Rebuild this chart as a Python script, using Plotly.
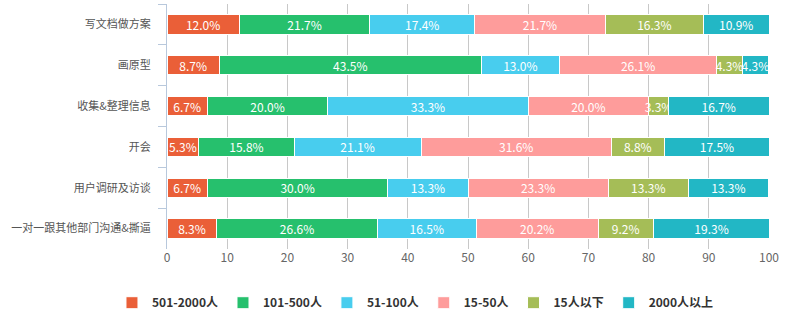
import plotly.graph_objects as go

categories = ["写文档做方案", "画原型", "收集&整理信息", "开会", "用户调研及访谈", "一对一跟其他部门沟通&撕逼"]
series_names = ["501-2000人", "101-500人", "51-100人", "15-50人", "15人以下", "2000人以上"]
s_501_2000 = [12.0, 8.7, 6.7, 5.3, 6.7, 8.3]
s_101_500 = [21.7, 43.5, 20.0, 15.8, 30.0, 26.6]
s_51_100 = [17.4, 13.0, 33.3, 21.1, 13.3, 16.5]
s_15_50 = [21.7, 26.1, 20.0, 31.6, 23.3, 20.2]
s_under15 = [16.3, 4.3, 3.3, 8.8, 13.3, 9.2]
s_over2000 = [10.9, 4.3, 16.7, 17.5, 13.3, 19.3]
x_ticks = [0, 10, 20, 30, 40, 50, 60, 70, 80, 90, 100]

colors = ["#EA5F38", "#26C06D", "#48CDEE", "#FE9C9B", "#A5BD57", "#22B7C5"]
all_series = [s_501_2000, s_101_500, s_51_100, s_15_50, s_under15, s_over2000]

FONT = "Noto Sans CJK SC, Microsoft YaHei, sans-serif"

fig = go.Figure()
for name, vals, col in zip(series_names, all_series, colors):
    fig.add_trace(go.Bar(
        name=name, y=categories, x=vals, orientation="h",
        marker=dict(color=col, line=dict(color="white", width=1)),
        text=[f"{v:.1f}%" for v in vals],
        textposition="inside", insidetextanchor="middle", textangle=0,
        textfont=dict(color="white", size=12, family=FONT),
        constraintext="none",
        hoverinfo="x+name",
    ))

fig.update_layout(
    barmode="stack",
    bargap=0.53,
    width=799, height=321,
    margin=dict(l=167, r=30, t=4, b=72),
    paper_bgcolor="white", plot_bgcolor="white",
    font=dict(family=FONT, size=12, color="#555"),
    uniformtext=dict(minsize=12, mode="show"),
    legend=dict(
        orientation="h", xref="container", yref="container",
        x=0.52, xanchor="center", y=0.057, yanchor="middle",
        font=dict(size=12, color="#333", family=FONT, weight="bold"),
        itemclick=False, traceorder="normal",
    ),
    showlegend=True,
)
fig.update_xaxes(
    range=[0, 100], tickvals=x_ticks, ticktext=[str(t) for t in x_ticks],
    showgrid=True, gridcolor="#C8C8C8", gridwidth=1,
    zeroline=False, showline=False, ticks="",
    tickfont=dict(size=12, color="#666", family=FONT),
    fixedrange=True,
)
fig.update_yaxes(
    autorange="reversed",
    showline=True, linecolor="#B8C8DC", linewidth=1,
    ticks="outside", tickson="boundaries", ticklen=8, tickcolor="#B8C8DC",
    ticklabelstandoff=13,
    showgrid=False,
    tickfont=dict(size=11, color="#555", family=FONT),
    fixedrange=True,
)

fig.write_html("out.html")
